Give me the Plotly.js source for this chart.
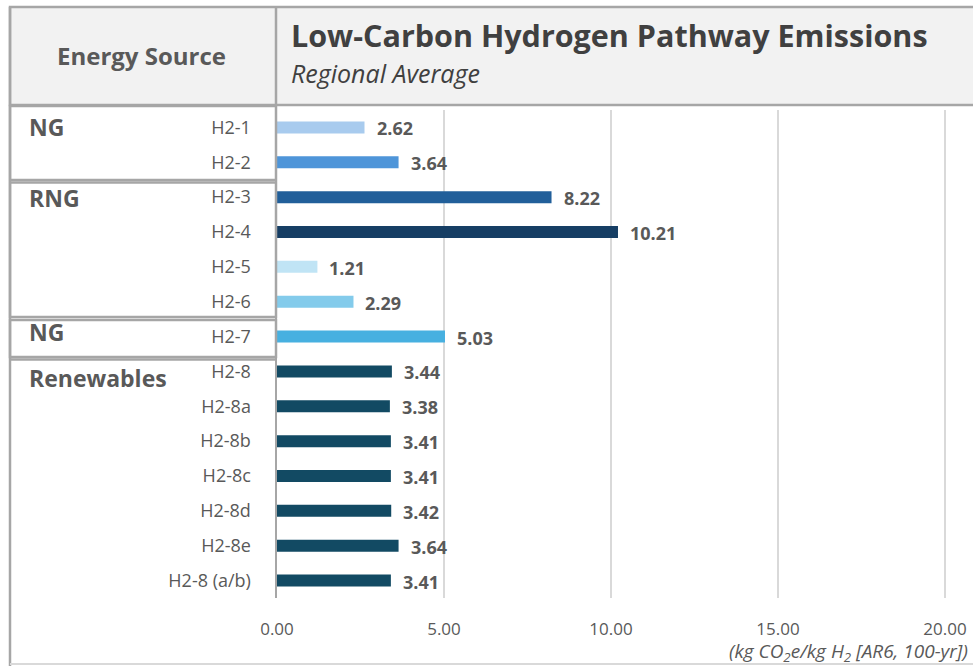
<!DOCTYPE html>
<html>
<head>
<meta charset="utf-8">
<script src="https://cdn.plot.ly/plotly-3.0.1.min.js"></script>
<style>html,body{margin:0;padding:0;background:#fff;}#chart{width:973px;height:666px;}</style>
</head>
<body>
<div id="chart"></div>
<script>
// ---- data ----
const categories = ['H2-1','H2-2','H2-3','H2-4','H2-5','H2-6','H2-7','H2-8','H2-8a','H2-8b','H2-8c','H2-8d','H2-8e','H2-8 (a/b)'];
const values = [2.62, 3.64, 8.22, 10.21, 1.21, 2.29, 5.03, 3.44, 3.38, 3.41, 3.41, 3.42, 3.64, 3.41];
const barColors = ['#a8cbee','#4e95d9','#215f9a','#163e64','#c0e4f5','#83cbeb','#47b0e0','#124a63','#124a63','#124a63','#124a63','#124a63','#124a63','#124a63'];
const groupNames = ['NG','RNG','NG','Renewables'];
const groupFirstCategory = ['H2-1','H2-3','H2-7','H2-8'];
const xTicks = [0, 5, 10, 15, 20];
const titleText = 'Low-Carbon Hydrogen Pathway Emissions';
const subtitleText = 'Regional Average';
const headerText = 'Energy Source';
const unitText = '<i>(kg CO<sub>2</sub>e/kg H<sub>2</sub> [AR6, 100-yr])</i>';

// ---- layout helpers ----
const W = 973, H = 666;
const px = x => x / W;
const py = y => 1 - y / H;
const FONT = 'Open Sans, sans-serif';
const TXT = '#595959';
const BORDER = '#a6a6a6';

const trace = {
  type: 'bar',
  orientation: 'h',
  y: categories,
  x: values,
  width: 0.345,
  marker: {color: barColors, line: {width: 0}},
  hoverinfo: 'x+y'
};

const annotations = [];
values.forEach((v, i) => {
  annotations.push({
    xref: 'x', yref: 'y', x: v, y: categories[i],
    text: '<b>' + v.toFixed(2) + '</b>',
    showarrow: false, xanchor: 'left', yanchor: 'middle', xshift: 10, yshift: -1,
    font: {family: FONT, size: 18, color: TXT}
  });
});
const groupShift = [0, -1, 5, -7];
groupNames.forEach((g, i) => {
  annotations.push({
    xref: 'paper', yref: 'y', x: px(27), y: groupFirstCategory[i],
    text: '<b>' + g + '</b>', showarrow: false, xanchor: 'left', yanchor: 'middle',
    yshift: groupShift[i],
    font: {family: FONT, size: 23, color: TXT}
  });
});
annotations.push({
  xref: 'paper', yref: 'paper', x: px(141), y: py(56), text: '<b>' + headerText + '</b>',
  showarrow: false, xanchor: 'center', yanchor: 'middle',
  font: {family: FONT, size: 24, color: TXT}
});
annotations.push({
  xref: 'paper', yref: 'paper', x: px(289), y: py(35), text: '<b>' + titleText + '</b>',
  showarrow: false, xanchor: 'left', yanchor: 'middle',
  font: {family: FONT, size: 30.5, color: '#404040'}
});
annotations.push({
  xref: 'paper', yref: 'paper', x: px(289), y: py(73), text: '<i>' + subtitleText + '</i>',
  showarrow: false, xanchor: 'left', yanchor: 'middle',
  font: {family: FONT, size: 25, color: '#404040'}
});
annotations.push({
  xref: 'paper', yref: 'paper', x: px(970), y: py(652), text: unitText,
  showarrow: false, xanchor: 'right', yanchor: 'middle',
  font: {family: FONT, size: 19, color: TXT}
});

const line = {color: BORDER, width: 2.5};
const shapes = [
  // header band
  {type: 'rect', xref: 'paper', yref: 'paper', x0: px(10), x1: px(990), y0: py(7), y1: py(105), fillcolor: '#f2f2f2', line: line, layer: 'below'},
  {type: 'line', xref: 'paper', yref: 'paper', x0: px(276), x1: px(276), y0: py(7), y1: py(105), line: line},
  // outer frame
  {type: 'line', xref: 'paper', yref: 'paper', x0: px(10), x1: px(10), y0: py(7), y1: py(666), line: line},
  {type: 'line', xref: 'paper', yref: 'paper', x0: px(10), x1: px(980), y0: py(664), y1: py(664), line: {color: '#d9d9d9', width: 2}},
  // group boxes
  {type: 'rect', xref: 'paper', yref: 'paper', x0: px(10), x1: px(276), y0: py(106), y1: py(180), line: line},
  {type: 'rect', xref: 'paper', yref: 'paper', x0: px(10), x1: px(276), y0: py(182.5), y1: py(317), line: line},
  {type: 'rect', xref: 'paper', yref: 'paper', x0: px(10), x1: px(276), y0: py(320), y1: py(357), line: line},
  {type: 'line', xref: 'paper', yref: 'paper', x0: px(10), x1: px(276), y0: py(359.5), y1: py(359.5), line: line}
];

const layout = {
  width: W, height: H,
  margin: {l: 0, r: 0, t: 0, b: 0},
  paper_bgcolor: '#ffffff', plot_bgcolor: '#ffffff',
  showlegend: false,
  bargap: 0.6,
  xaxis: {
    domain: [px(277), 1],
    range: [0, 20.84],
    tickvals: xTicks,
    tickformat: '.2f',
    showgrid: true, gridcolor: '#d9d9d9', gridwidth: 2,
    zeroline: false, showline: false, ticks: '',
    ticklabelstandoff: 19,
    tickfont: {family: FONT, size: 17, color: TXT},
    fixedrange: true
  },
  yaxis: {
    domain: [py(598), py(110)],
    type: 'category',
    categoryorder: 'array', categoryarray: categories,
    range: [categories.length - 0.5, -0.5],
    showgrid: false, zeroline: false,
    showline: true, linecolor: BORDER, linewidth: 2.5,
    ticks: '', ticklabelstandoff: 20,
    tickfont: {family: FONT, size: 18, color: TXT},
    fixedrange: true
  },
  annotations: annotations,
  shapes: shapes
};

Plotly.newPlot('chart', [trace], layout, {displayModeBar: false, staticPlot: true});
</script>
</body>
</html>
